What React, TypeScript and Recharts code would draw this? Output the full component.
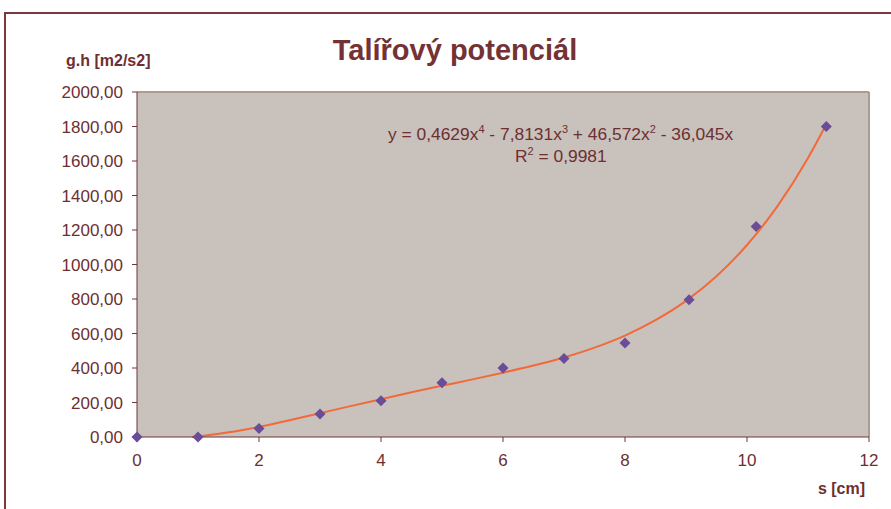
import React from "react";
import {
  ComposedChart, Scatter, Line, XAxis, YAxis, CartesianGrid, ReferenceLine,
} from "recharts";

// measured points: s [cm] vs g.h [m2/s2]
const sValues = [0, 1, 2, 3, 4, 5, 6, 7, 8, 9.05, 10.15, 11.3];
const ghValues = [0, 0, 50, 133, 210, 315, 400, 455, 545, 795, 1220, 1800];

// polynomial trendline
const trendX = [0.9, 1, 1.5, 2, 2.5, 3, 3.5, 4, 4.5, 5, 5.5, 6, 6.5, 7, 7.5, 8, 8.5, 9, 9.5, 10, 10.5, 11, 11.3];
const trendY = [0, 3, 27, 59, 97, 138, 179, 219, 259, 297, 334, 373, 414, 461, 518, 588, 677, 789, 932, 1113, 1338, 1617, 1813];

const xTicks = [0, 2, 4, 6, 8, 10, 12];
const yTicks = [0, 200, 400, 600, 800, 1000, 1200, 1400, 1600, 1800, 2000];

const points = sValues.map((x, i) => ({ x, y: ghValues[i] }));
const trend = trendX.map((x, i) => ({ x, y: trendY[i] }));

const TXT = "#6e2f30";
const FONT = "'Liberation Sans', Arial, sans-serif";

const Diamond = (p: any) => {
  const { cx, cy } = p;
  if (cx == null || cy == null) return null;
  const r = 5.5;
  return (
    <polygon
      points={`${cx},${cy - r} ${cx + r},${cy} ${cx},${cy + r} ${cx - r},${cy}`}
      fill="#6a4c98"
    />
  );
};

const sup = { fontSize: 11 };

export default function App() {
  return (
    <div style={{ position: "absolute", left: 0, top: 0, width: 891, height: 509, background: "#fff", overflow: "hidden", fontFamily: FONT }}>
      <div style={{ position: "absolute", left: 4, top: 12, width: 940, height: 560, border: "2px solid #7a3a3b", boxSizing: "border-box" }} />
      <div style={{ position: "absolute", left: 0, width: 910, top: 34, textAlign: "center", fontSize: 29, fontWeight: 700, color: "#753234" }}>
        Talířový potenciál
      </div>
      <div style={{ position: "absolute", left: 66, top: 52, fontSize: 16, fontWeight: 700, color: TXT }}>
        g.h [m2/s2]
      </div>
      <div style={{ position: "absolute", right: 26, top: 480, fontSize: 16, fontWeight: 700, color: TXT }}>
        s [cm]
      </div>
      <ComposedChart
        width={891}
        height={509}
        margin={{ top: 92, right: 22, bottom: 0, left: 0 }}
        style={{ position: "absolute", left: 0, top: 0 }}
      >
        <CartesianGrid fill="#c9c1bc" horizontal={false} vertical={false} />
        <XAxis
          type="number"
          dataKey="x"
          domain={[0, 12]}
          ticks={xTicks}
          height={72}
          stroke="#6e3538"
          tickSize={5}
          tickMargin={12}
          tick={{ fill: TXT, fontSize: 17, fontFamily: FONT }}
        />
        <YAxis
          type="number"
          dataKey="y"
          domain={[0, 2000]}
          ticks={yTicks}
          width={137}
          stroke="#6e3538"
          tickSize={5}
          tickMargin={9}
          tick={{ fill: TXT, fontSize: 17, fontFamily: FONT }}
          tickFormatter={(v: number) => v.toFixed(2).replace(".", ",")}
        />
        <ReferenceLine y={2000} stroke="#ab9c8f" strokeWidth={2} />
        <ReferenceLine x={12} stroke="#ab9c8f" strokeWidth={2} />
        <Line
          data={trend}
          dataKey="y"
          type="monotone"
          stroke="#f26a3a"
          strokeWidth={2}
          dot={false}
          activeDot={false}
          isAnimationActive={false}
        />
        <Scatter data={points} dataKey="y" shape={Diamond} isAnimationActive={false} />
      </ComposedChart>
      <div style={{ position: "absolute", left: 388, top: 123, fontSize: 17.4, color: TXT, whiteSpace: "nowrap" }}>
        y = 0,4629x<sup style={sup}>4</sup> - 7,8131x<sup style={sup}>3</sup> + 46,572x<sup style={sup}>2</sup> - 36,045x
      </div>
      <div style={{ position: "absolute", left: 515, top: 145, fontSize: 17.4, color: TXT, whiteSpace: "nowrap" }}>
        R<sup style={sup}>2</sup> = 0,9981
      </div>
    </div>
  );
}
